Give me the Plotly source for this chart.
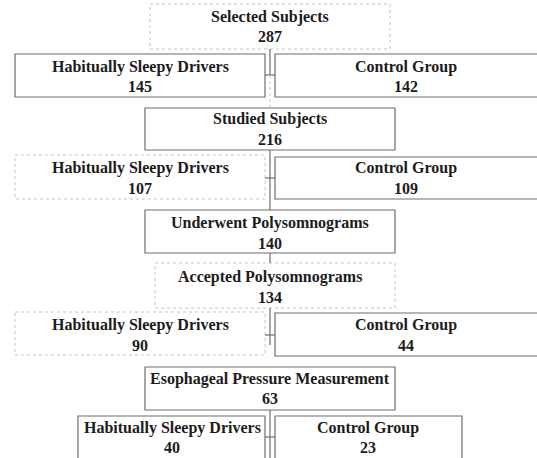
import plotly.graph_objects as go

# ---- data ----
titles = ["Selected Subjects", "Habitually Sleepy Drivers", "Control Group",
          "Studied Subjects", "Habitually Sleepy Drivers", "Control Group",
          "Underwent Polysomnograms", "Accepted Polysomnograms",
          "Habitually Sleepy Drivers", "Control Group",
          "Esophageal Pressure Measurement", "Habitually Sleepy Drivers", "Control Group"]
counts = [287, 145, 142, 216, 107, 109, 140, 134, 90, 44, 63, 40, 23]

# ---- layout (pixel geometry) ----
# x0, x1, y0, y1, text-center-x, title-y, count-y, style
boxes = [
    (150, 390, 4, 49, 270, 17, 36, "faint"),
    (15, 265, 54, 97, 140, 67, 86, "solid"),
    (275, 540, 54, 97, 406, 67, 86, "solid"),
    (145, 395, 108, 150, 270, 119, 139, "solid"),
    (15, 265, 155, 199, 140, 168, 188, "faint"),
    (275, 540, 157, 199, 406, 168, 188, "solid"),
    (145, 395, 210, 253, 270, 223, 243, "solid"),
    (155, 395, 263, 308, 270, 277, 297, "faint"),
    (15, 265, 312, 355, 140, 325, 345, "faint"),
    (275, 540, 313, 356, 406, 325, 345, "solid"),
    (145, 395, 367, 410, 270, 379, 398, "solid"),
    (78, 265, 416, 462, 172, 428, 447, "solid"),
    (275, 462, 416, 462, 368, 428, 447, "solid"),
]
# connectors: (x0, y0, x1, y1, style)
links = [
    (270, 49, 270, 75, "solid"), (265, 75, 275, 75, "solid"), (270, 75, 270, 108, "faint"),
    (270, 150, 270, 210, "solid"), (265, 178, 275, 178, "solid"),
    (270, 253, 270, 263, "solid"),
    (270, 308, 270, 345, "solid"), (265, 335, 275, 335, "solid"),
    (270, 410, 270, 462, "solid"), (265, 437, 275, 437, "solid"),
]

styles = {"solid": dict(color="#6e6e6e", width=1.2, dash="solid"),
          "faint": dict(color="#c4c4c4", width=1, dash="dot")}

fig = go.Figure()
fig.add_trace(go.Scatter(x=[0, 537], y=[0, 458], mode="markers",
                         marker=dict(opacity=0), hoverinfo="skip", showlegend=False))

for (x0, x1, y0, y1, cx, ty, ny, st) in boxes:
    fig.add_shape(type="rect", x0=x0, x1=x1, y0=y0, y1=y1, line=styles[st],
                  fillcolor="rgba(0,0,0,0)", layer="below")
for (x0, y0, x1, y1, st) in links:
    fig.add_shape(type="line", x0=x0, y0=y0, x1=x1, y1=y1, line=styles[st])

font = dict(family="Liberation Serif", size=16, color="#1c1c1c")
for i, (x0, x1, y0, y1, cx, ty, ny, st) in enumerate(boxes):
    fig.add_annotation(x=cx, y=ty, text=f"<b>{titles[i]}</b>", showarrow=False,
                       font=font, xanchor="center", yanchor="middle")
    fig.add_annotation(x=cx, y=ny, text=f"<b>{counts[i]}</b>", showarrow=False,
                       font=font, xanchor="center", yanchor="middle")

fig.update_layout(width=537, height=458, margin=dict(l=0, r=0, t=0, b=0),
                  paper_bgcolor="white", plot_bgcolor="white", showlegend=False,
                  xaxis=dict(range=[0, 537], visible=False, fixedrange=True),
                  yaxis=dict(range=[458, 0], visible=False, fixedrange=True))
fig.write_html("out.html", config={"displayModeBar": False},
               post_script="document.body.style.margin='0';document.body.style.overflow='hidden';")
